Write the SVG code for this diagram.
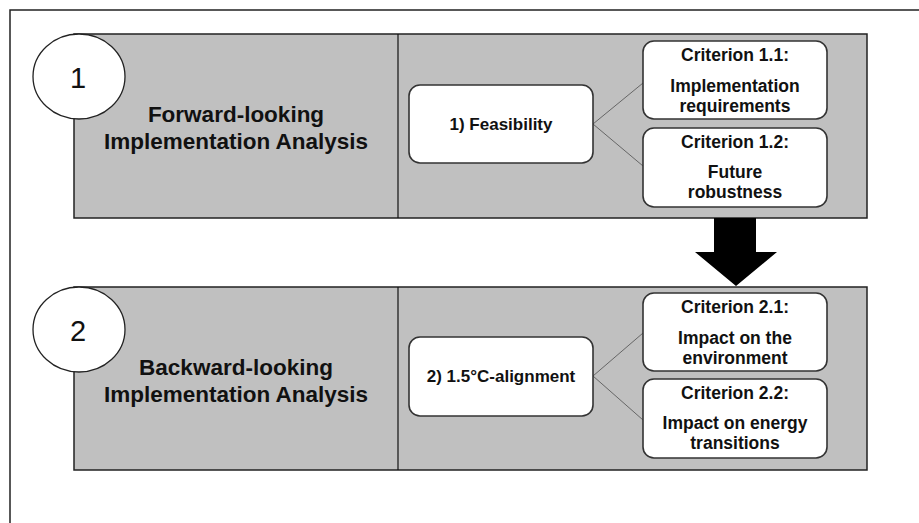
<svg xmlns="http://www.w3.org/2000/svg" width="919" height="523" viewBox="0 0 919 523">
<style>
.frame{fill:none;stroke:#222;stroke-width:1.5}
.band{fill:#c0c0c0;stroke:#222;stroke-width:1.5}
.div{stroke:#111;stroke-width:1.2}
.circ{fill:#fff;stroke:#222;stroke-width:1.3}
.box{fill:#fff;stroke:#333;stroke-width:1.6}
.conn{stroke:#666;stroke-width:1;fill:none}
.num{font-family:"Liberation Sans",Arial,sans-serif;font-size:29px;fill:#111;text-anchor:middle}
.title{font-family:"Liberation Sans",Arial,sans-serif;font-size:22.5px;font-weight:bold;fill:#111;text-anchor:middle}
.lbl{font-family:"Liberation Sans",Arial,sans-serif;font-size:17px;font-weight:bold;fill:#111;text-anchor:middle}
.crit{font-family:"Liberation Sans",Arial,sans-serif;font-size:17.5px;font-weight:bold;fill:#111;text-anchor:middle}
</style>
<rect width="919" height="523" fill="#fff"/>
<path class="frame" d="M10,523 V10 H919"/>

<g id="band1">
<rect class="band" x="74" y="34" width="793" height="184"/>
<line class="div" x1="398" y1="34" x2="398" y2="218"/>
</g>
<g id="band2">
<rect class="band" x="74" y="287" width="793" height="183"/>
<line class="div" x1="398" y1="287" x2="398" y2="470"/>
</g>

<g id="connectors">
<line class="conn" x1="593" y1="124" x2="643" y2="83"/>
<line class="conn" x1="593" y1="124" x2="643" y2="166"/>
<line class="conn" x1="593" y1="376" x2="643" y2="333"/>
<line class="conn" x1="593" y1="376" x2="643" y2="420"/>
<polygon id="flow-arrow" points="714,218 756,218 756,252 777,252 736,286 695,252 714,252" fill="#000"/>
</g>

<g id="circle1">
<ellipse class="circ" cx="79" cy="76.5" rx="46" ry="42.5"/>
<text class="num" x="78" y="88">1</text>
</g>
<g id="title1">
<text class="title" x="236" y="122">Forward-looking</text>
<text class="title" x="236" y="149">Implementation Analysis</text>
</g>
<g id="feasibility">
<rect class="box" x="409" y="85" width="184" height="78" rx="11"/>
<text class="lbl" x="501" y="130">1) Feasibility</text>
</g>
<g id="crit11">
<rect class="box" x="643" y="41" width="184" height="78" rx="11"/>
<text class="crit" x="735" y="61">Criterion 1.1:</text>
<text class="crit" x="735" y="92">Implementation</text>
<text class="crit" x="735" y="112">requirements</text>
</g>
<g id="crit12">
<rect class="box" x="643" y="128" width="184" height="79" rx="11"/>
<text class="crit" x="735" y="148">Criterion 1.2:</text>
<text class="crit" x="735" y="178">Future</text>
<text class="crit" x="735" y="198">robustness</text>
</g>

<g id="circle2">
<ellipse class="circ" cx="79" cy="329.5" rx="46" ry="42.5"/>
<text class="num" x="78" y="341">2</text>
</g>
<g id="title2">
<text class="title" x="236" y="375">Backward-looking</text>
<text class="title" x="236" y="402">Implementation Analysis</text>
</g>
<g id="alignment">
<rect class="box" x="409" y="337" width="184" height="79" rx="11"/>
<text class="lbl" x="501" y="382">2) 1.5°C-alignment</text>
</g>
<g id="crit21">
<rect class="box" x="643" y="293" width="184" height="78" rx="11"/>
<text class="crit" x="735" y="313">Criterion 2.1:</text>
<text class="crit" x="735" y="344">Impact on the</text>
<text class="crit" x="735" y="364">environment</text>
</g>
<g id="crit22">
<rect class="box" x="643" y="379" width="184" height="79" rx="11"/>
<text class="crit" x="735" y="399">Criterion 2.2:</text>
<text class="crit" x="735" y="429">Impact on energy</text>
<text class="crit" x="735" y="449">transitions</text>
</g>
</svg>
